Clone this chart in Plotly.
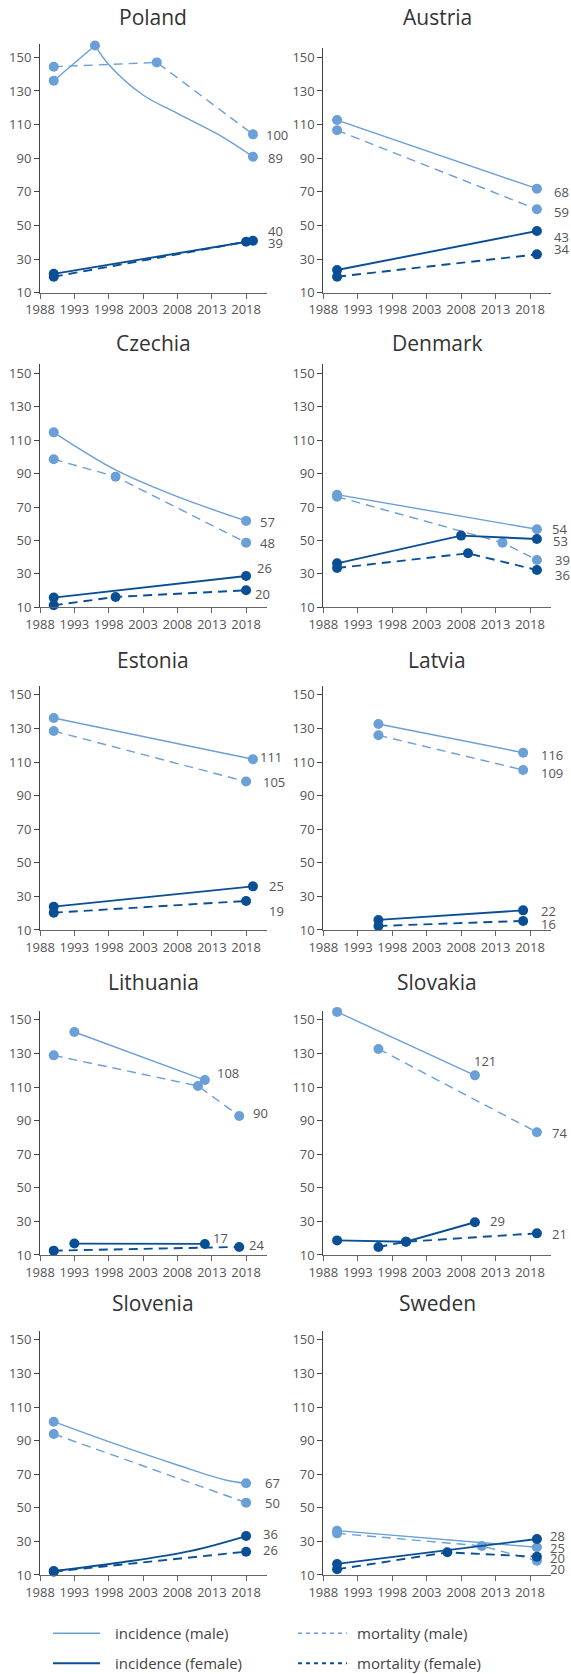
import plotly.graph_objects as go

# ---------------- data ----------------
countries = ["Poland", "Austria", "Czechia", "Denmark", "Estonia",
             "Latvia", "Lithuania", "Slovakia", "Slovenia", "Sweden"]

year_ticks = [1988, 1993, 1998, 2003, 2008, 2013, 2018]
value_ticks = [10, 30, 50, 70, 90, 110, 130, 150]

inc_male_years = {"Poland": [1990, 1996, 2019], "Austria": [1990, 2019], "Czechia": [1990, 2018],
                  "Denmark": [1990, 2019], "Estonia": [1990, 2019], "Latvia": [1996, 2017],
                  "Lithuania": [1993, 2012], "Slovakia": [1990, 2010], "Slovenia": [1990, 2018],
                  "Sweden": [1990, 2019]}
inc_male_vals = {"Poland": [136.1, 157.1, 90.9], "Austria": [112.7, 71.9], "Czechia": [114.7, 61.7],
                 "Denmark": [77.4, 56.7], "Estonia": [136.3, 111.7], "Latvia": [132.7, 115.6],
                 "Lithuania": [142.8, 114.2], "Slovakia": [154.8, 117.0], "Slovenia": [101.3, 64.6],
                 "Sweden": [36.4, 26.5]}

mort_male_years = {"Poland": [1990, 2005, 2019], "Austria": [1990, 2019], "Czechia": [1990, 1999, 2018],
                   "Denmark": [1990, 2014, 2019], "Estonia": [1990, 2018], "Latvia": [1996, 2017],
                   "Lithuania": [1990, 2011, 2017], "Slovakia": [1996, 2019], "Slovenia": [1990, 2018],
                   "Sweden": [1990, 2011, 2019]}
mort_male_vals = {"Poland": [144.4, 147.0, 104.2], "Austria": [106.6, 59.6], "Czechia": [98.6, 88.2, 48.7],
                  "Denmark": [76.2, 48.7, 38.3], "Estonia": [128.5, 98.4], "Latvia": [126.0, 105.3],
                  "Lithuania": [128.9, 110.7, 92.8], "Slovakia": [132.7, 83.1], "Slovenia": [94.0, 53.1],
                  "Sweden": [34.8, 27.3, 18.5]}

inc_female_years = {"Poland": [1990, 2019], "Austria": [1990, 2019], "Czechia": [1990, 2018],
                    "Denmark": [1990, 2008, 2019], "Estonia": [1990, 2019], "Latvia": [1996, 2017],
                    "Lithuania": [1993, 2012], "Slovakia": [1990, 2000, 2010], "Slovenia": [1990, 2018],
                    "Sweden": [1990, 2019]}
inc_female_vals = {"Poland": [21.2, 40.9], "Austria": [23.5, 46.7], "Czechia": [15.8, 28.7],
                   "Denmark": [36.3, 52.9, 50.9], "Estonia": [23.9, 36.0], "Latvia": [16.0, 21.7],
                   "Lithuania": [16.8, 16.6], "Slovakia": [18.7, 17.9, 29.5], "Slovenia": [12.4, 33.2],
                   "Sweden": [16.6, 31.4]}

mort_female_years = {"Poland": [1990, 2018], "Austria": [1990, 2019], "Czechia": [1990, 1999, 2018],
                     "Denmark": [1990, 2009, 2019], "Estonia": [1990, 2018], "Latvia": [1996, 2017],
                     "Lithuania": [1990, 2017], "Slovakia": [1996, 2000, 2019], "Slovenia": [1990, 2018],
                     "Sweden": [1990, 2006, 2019]}
mort_female_vals = {"Poland": [19.5, 40.3], "Austria": [19.5, 32.8], "Czechia": [11.2, 16.2, 20.2],
                    "Denmark": [33.5, 42.3, 32.3], "Estonia": [20.3, 27.3], "Latvia": [12.4, 15.4],
                    "Lithuania": [12.6, 14.8], "Slovakia": [14.8, 17.9, 22.9], "Slovenia": [12.0, 23.9],
                    "Sweden": [13.4, 23.5, 20.9]}

# curved trend paths (line only; None splits straight and curved parts)
inc_male_curve_years = {"Poland": [1990, 1996, None, 1996, 1998, 2003, 2008, 2014, 2019],
                        "Czechia": [1990, 1999, 2008, 2018],
                        "Slovenia": [1990, 1998, 2008, 2015, 2018]}
inc_male_curve_vals = {"Poland": [136.1, 157.1, None, 157.1, 145.8, 127.6, 116.7, 104.0, 90.9],
                       "Czechia": [114.7, 92.2, 76.2, 61.7],
                       "Slovenia": [101.3, 89.4, 75.5, 66.6, 64.6]}
inc_female_curve_years = {"Slovenia": [1990, 2000, 2010, 2018]}
inc_female_curve_vals = {"Slovenia": [12.4, 17.6, 24.4, 33.2]}

# end-value labels (anchor in years / values)
label_text = {"Poland": ["100", "89", "40", "39"], "Austria": ["68", "59", "43", "34"],
              "Czechia": ["57", "48", "26", "20"], "Denmark": ["54", "53", "39", "36"],
              "Estonia": ["111", "105", "25", "19"], "Latvia": ["116", "109", "22", "16"],
              "Lithuania": ["108", "90", "17", "24"], "Slovakia": ["121", "74", "29", "21"],
              "Slovenia": ["67", "50", "36", "26"], "Sweden": ["28", "25", "20", "20"]}
label_x = {"Poland": [2020.75, 2021.1, 2021.1, 2021.1], "Austria": [2021.4, 2021.4, 2021.4, 2021.4],
           "Czechia": [2019.9, 2019.9, 2019.4, 2019.2], "Denmark": [2021.0, 2021.2, 2021.5, 2021.5],
           "Estonia": [2019.9, 2020.3, 2021.2, 2021.2], "Latvia": [2019.5, 2019.5, 2019.5, 2019.5],
           "Lithuania": [2013.6, 2018.9, 2013.1, 2018.3], "Slovakia": [2009.7, 2021.0, 2012.1, 2021.0],
           "Slovenia": [2020.6, 2020.6, 2020.3, 2020.3], "Sweden": [2020.7, 2020.7, 2020.7, 2020.7]}
label_y = {"Poland": [103.8, 89.9, 46.7, 39.3], "Austria": [69.7, 57.8, 42.9, 35.8],
           "Czechia": [61.3, 48.7, 33.3, 18.0], "Denmark": [56.9, 49.7, 38.3, 29.3],
           "Estonia": [113.3, 98.0, 36.4, 21.5], "Latvia": [114.2, 103.7, 21.5, 13.6],
           "Lithuania": [118.2, 94.4, 19.9, 16.0], "Slovakia": [125.8, 82.5, 30.5, 22.5],
           "Slovenia": [64.6, 53.1, 34.2, 24.9], "Sweden": [33.4, 25.9, 19.9, 13.4]}

legend_labels = ["incidence (male)", "mortality (male)", "incidence (female)", "mortality (female)"]

# ---------------- styling / layout ----------------
W, H = 571, 1674
X_RANGE = [1988, 2021]
Y_MIN = 10
Y_TOP = {"Poland": 158.0}   # Poland's peak rises above the usual axis top
Y_TOP_DEFAULT = 155.5
LIGHT = "#6a9fd8"
DARK = "#0a4f96"
TXT = "#555555"
FONT = "Open Sans"
DASH = "9px,6px"

col_px = [(40.0, 266.7), (323.3, 550.7)]
row_bottom_px = [292.7, 607.3, 930.0, 1255.0, 1575.0]
row_ppu = [1.681, 1.671, 1.679, 1.679, 1.679]   # pixels per y unit
title_y_px = [17, 343, 660, 982, 1303]

fig = go.Figure()
annotations = []
shapes = []

series_defs = [
    (mort_male_years, mort_male_vals, None, None, LIGHT, DASH, 1.4, 10),
    (inc_male_years, inc_male_vals, inc_male_curve_years, inc_male_curve_vals, LIGHT, "solid", 1.4, 10),
    (mort_female_years, mort_female_vals, None, None, DARK, DASH, 1.9, 10),
    (inc_female_years, inc_female_vals, inc_female_curve_years, inc_female_curve_vals, DARK, "solid", 1.9, 10),
]

for i, c in enumerate(countries):
    r, col = divmod(i, 2)
    n = i + 1
    xs = "x" if n == 1 else f"x{n}"
    ys = "y" if n == 1 else f"y{n}"
    xa = "xaxis" if n == 1 else f"xaxis{n}"
    ya = "yaxis" if n == 1 else f"yaxis{n}"
    x0, x1 = col_px[col]
    ytop = Y_TOP.get(c, Y_TOP_DEFAULT)
    bot = row_bottom_px[r]
    top = bot - (ytop - Y_MIN) * row_ppu[r]
    fig.layout[xa] = dict(domain=[x0 / W, x1 / W], anchor=ys, range=X_RANGE,
                          tickvals=year_ticks, ticktext=[str(t) for t in year_ticks],
                          tickangle=0, showline=True, linecolor="#666", linewidth=1,
                          ticks="outside", ticklen=5, tickcolor="#666", automargin=False,
                          tickfont=dict(family=FONT, size=13, color=TXT),
                          showgrid=False, zeroline=False, fixedrange=True)
    fig.layout[ya] = dict(domain=[1 - bot / H, 1 - top / H], anchor=xs, range=[Y_MIN, ytop],
                          tickvals=value_ticks, showline=True, linecolor="#444", linewidth=1,
                          ticks="outside", ticklen=5, tickcolor="#444", automargin=False,
                          tickfont=dict(family=FONT, size=13, color=TXT),
                          showgrid=False, zeroline=False, fixedrange=True)

    for yrs, vals, cy, cv, color, dash, lw, ms in series_defs:
        if cy is not None and c in cy:
            fig.add_trace(go.Scatter(x=cy[c], y=cv[c], mode="lines", xaxis=xs, yaxis=ys,
                                     line=dict(color=color, width=lw, dash=dash, shape="spline",
                                               smoothing=1.0),
                                     connectgaps=False,
                                     cliponaxis=False, hoverinfo="skip", showlegend=False))
            fig.add_trace(go.Scatter(x=yrs[c], y=vals[c], mode="markers", xaxis=xs, yaxis=ys,
                                     marker=dict(color=color, size=ms),
                                     cliponaxis=False, showlegend=False))
        else:
            fig.add_trace(go.Scatter(x=yrs[c], y=vals[c], mode="lines+markers", xaxis=xs, yaxis=ys,
                                     line=dict(color=color, width=lw, dash=dash),
                                     marker=dict(color=color, size=ms),
                                     cliponaxis=False, showlegend=False))

    xdom = "x domain" if n == 1 else f"x{n} domain"
    for t, lx, ly in zip(label_text[c], label_x[c], label_y[c]):
        frac = (lx - X_RANGE[0]) / (X_RANGE[1] - X_RANGE[0])
        annotations.append(dict(x=frac, y=ly, xref=xdom, yref=ys, text=t, showarrow=False,
                                xanchor="left", yanchor="middle", borderpad=0,
                                font=dict(family=FONT, size=13, color=TXT)))

    annotations.append(dict(x=(x0 + x1) / 2 / W, y=1 - title_y_px[r] / H,
                            xref="paper", yref="paper", text=c, showarrow=False,
                            xanchor="center", yanchor="middle",
                            font=dict(family=FONT, size=21, color="#333")))

# legend (manual)
leg_rows = [1633.3, 1663.3]
leg_cols = [(53, 100, 113), (298, 347, 355)]
leg_styles = [(LIGHT, "solid", 1.4), (LIGHT, "4px,4px", 1.4), (DARK, "solid", 1.9), (DARK, "4px,4px", 1.9)]
for k, lab in enumerate(legend_labels):
    rr, cc = divmod(k, 2)
    lx0, lx1, tx = leg_cols[cc]
    yy = 1 - leg_rows[rr] / H
    color, dash, lw = leg_styles[k]
    shapes.append(dict(type="line", xref="paper", yref="paper", x0=lx0 / W, x1=lx1 / W, y0=yy, y1=yy,
                       line=dict(color=color, width=lw, dash=dash)))
    annotations.append(dict(x=tx / W, y=yy, xref="paper", yref="paper", text=lab, showarrow=False,
                            xanchor="left", yanchor="middle",
                            font=dict(family=FONT, size=15, color="#444")))

fig.update_layout(template="none", width=W, height=H,
                  margin=dict(l=0, r=0, t=0, b=0, pad=0, autoexpand=False),
                  paper_bgcolor="white", plot_bgcolor="white", showlegend=False,
                  annotations=annotations, shapes=shapes,
                  font=dict(family=FONT, color=TXT))

fig.write_html("out.html", config={"displayModeBar": False},
               post_script="document.body.style.margin='0px';")
